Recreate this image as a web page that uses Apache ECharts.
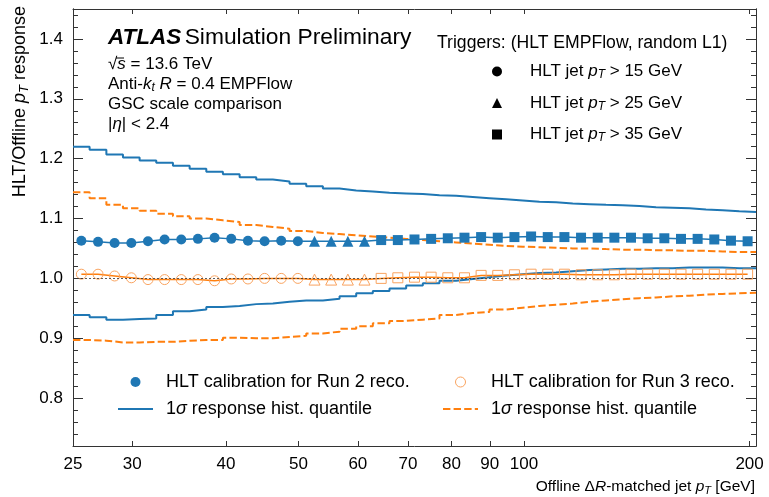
<!DOCTYPE html>
<html>
<head>
<meta charset="utf-8">
<script src="https://cdn.jsdelivr.net/npm/echarts@6/dist/echarts.min.js"></script>
<style>
  html, body { margin: 0; padding: 0; background: #fff; }
  #chart { width: 769px; height: 497px; }
</style>
</head>
<body>
<div id="chart"></div>
<script>
// bins in offline jet pT (GeV), log-spaced
const binEdges = [25, 26.31, 27.70, 29.15, 30.68, 32.29, 33.99, 35.78, 37.66, 39.63, 41.72, 43.91, 46.21, 48.64,
  51.20, 53.89, 56.72, 59.70, 62.83, 66.13, 69.61, 73.27, 77.11, 81.17, 85.43, 89.92, 94.64, 99.61, 104.84,
  110.35, 116.15, 122.25, 128.67, 135.43, 142.55, 150.03, 157.91, 166.21, 174.94, 184.13, 193.81, 204.0];
const binCenters = [25.65, 27.00, 28.41, 29.91, 31.48, 33.13, 34.87, 36.70, 38.63, 40.66, 42.80, 45.05, 47.41,
  49.90, 52.52, 55.28, 58.19, 61.24, 64.46, 67.85, 71.41, 75.16, 79.11, 83.27, 87.64, 92.24, 97.09, 102.19,
  107.56, 113.21, 119.15, 125.41, 132.00, 138.93, 146.23, 153.91, 162.00, 170.50, 179.46, 188.89, 198.81];

// mean response, HLT calibration for Run 2 / Run 3 reco
const run2Resp = [1.063, 1.061, 1.059, 1.059, 1.062, 1.065, 1.065, 1.066, 1.068, 1.066, 1.063, 1.062, 1.063, 1.062,
  1.062, 1.062, 1.062, 1.062, 1.064, 1.064, 1.065, 1.066, 1.067, 1.068, 1.069, 1.068, 1.069, 1.070, 1.069,
  1.069, 1.068, 1.068, 1.068, 1.068, 1.067, 1.067, 1.066, 1.066, 1.065, 1.063, 1.062];
const run3Resp = [1.007, 1.007, 1.004, 1.001, 0.998, 0.998, 0.998, 0.998, 0.996, 0.999, 0.999, 1.000, 1.000, 1.000,
  0.998, 0.998, 0.998, 0.998, 1.000, 1.001, 1.002, 1.002, 1.001, 1.001, 1.005, 1.005, 1.006, 1.007, 1.007,
  1.007, 1.006, 1.006, 1.006, 1.007, 1.007, 1.007, 1.007, 1.007, 1.007, 1.007, 1.007];

// 1 sigma quantiles of the response histograms
const run2Hi = [1.220, 1.215, 1.207, 1.202, 1.197, 1.193, 1.188, 1.183, 1.178, 1.174, 1.169, 1.165, 1.162, 1.158,
  1.154, 1.150, 1.147, 1.145, 1.143, 1.142, 1.141, 1.139, 1.138, 1.136, 1.134, 1.132, 1.130, 1.128, 1.127,
  1.125, 1.124, 1.123, 1.122, 1.121, 1.119, 1.118, 1.117, 1.115, 1.114, 1.112, 1.111];
const run2Lo = [0.939, 0.935, 0.931, 0.932, 0.933, 0.939, 0.945, 0.948, 0.952, 0.954, 0.957, 0.958, 0.961, 0.963,
  0.963, 0.966, 0.970, 0.975, 0.979, 0.983, 0.988, 0.992, 0.996, 0.999, 1.002, 1.005, 1.007, 1.009, 1.010,
  1.012, 1.014, 1.015, 1.016, 1.016, 1.017, 1.017, 1.018, 1.018, 1.018, 1.017, 1.017];
const run3Hi = [1.144, 1.134, 1.123, 1.117, 1.113, 1.108, 1.104, 1.100, 1.097, 1.094, 1.089, 1.086, 1.083, 1.079,
  1.076, 1.074, 1.072, 1.070, 1.068, 1.066, 1.064, 1.062, 1.060, 1.058, 1.056, 1.054, 1.053, 1.052, 1.051,
  1.050, 1.050, 1.049, 1.048, 1.048, 1.047, 1.047, 1.046, 1.046, 1.045, 1.044, 1.044];
const run3Lo = [0.897, 0.896, 0.893, 0.893, 0.894, 0.894, 0.896, 0.897, 0.897, 0.901, 0.900, 0.900, 0.902, 0.904,
  0.908, 0.911, 0.916, 0.920, 0.925, 0.929, 0.931, 0.933, 0.939, 0.942, 0.944, 0.948, 0.951, 0.954, 0.956,
  0.958, 0.961, 0.963, 0.965, 0.967, 0.968, 0.970, 0.971, 0.973, 0.974, 0.975, 0.976];

// which trigger is used from which bin on
const triggerFirstBin = [0, 14, 18];
const triggerShapes = ['circle', 'triangle', 'rect'];
const triggerSizes = [10, 11, 10];

const xTicks = [25, 30, 40, 50, 60, 70, 80, 90, 100, 200];
const yTicks = [0.8, 0.9, 1.0, 1.1, 1.2, 1.3, 1.4];
const yMinorTicks = [0.72, 0.74, 0.76, 0.78, 0.82, 0.84, 0.86, 0.88, 0.92, 0.94, 0.96, 0.98, 1.02, 1.04, 1.06, 1.08,
  1.12, 1.14, 1.16, 1.18, 1.22, 1.24, 1.26, 1.28, 1.32, 1.34, 1.36, 1.38, 1.42, 1.44];

const BLUE = '#1f77b4';
const ORANGE = '#ff7f0e';
const ORANGE_MK = '#f9a35f';
const FONT = '"Liberation Sans", Arial, Helvetica, sans-serif';

const richOf = (size) => ({
  i: { fontStyle: 'italic', fontSize: size, fontFamily: FONT },
  sub: { fontStyle: 'italic', fontSize: Math.round(size * 0.72), fontFamily: FONT, padding: [Math.round(size * 0.42), 0, 0, 0] }
});

function trigIdx(i) {
  let k = 0;
  triggerFirstBin.forEach((b, j) => { if (i >= b) k = j; });
  return k;
}

function stepData(vals) {
  return binEdges.map((e, i) => [e, vals[Math.min(i, vals.length - 1)]]);
}

function markerData(vals) {
  return vals.map((v, i) => ({
    value: [binCenters[i], v],
    symbol: triggerShapes[trigIdx(i)],
    symbolSize: triggerSizes[trigIdx(i)]
  }));
}

const legendNames = {
  trig15: 'HLT jet {i|p}{sub|T} > 15 GeV',
  trig25: 'HLT jet {i|p}{sub|T} > 25 GeV',
  trig35: 'HLT jet {i|p}{sub|T} > 35 GeV',
  run2: 'HLT calibration for Run 2 reco.',
  run3: 'HLT calibration for Run 3 reco.',
  q2: '1{i|σ} response hist. quantile',
  q3: '1{i|σ} response hist. quantile'
};

const chart = echarts.init(document.getElementById('chart'));

const xBase = {
  type: 'log', logBase: 10, min: 25, max: 204,
  splitLine: { show: false },
  axisLine: { lineStyle: { color: '#333', width: 1 } },
  axisTick: { inside: true, length: 5, customValues: xTicks.slice(1), lineStyle: { color: '#333' } }
};
const yBase = {
  type: 'value', min: 0.72, max: 1.45,
  splitLine: { show: false },
  axisLine: { show: true, lineStyle: { color: '#333', width: 1 } },
  axisLabel: { show: false }
};

const lineSeries = (name, vals, color, dashed) => ({
  name: name, type: 'line', step: 'end', data: stepData(vals), symbol: 'none',
  lineStyle: { color: color, width: 2, type: dashed ? [7.4, 3.2] : 'solid' },
  itemStyle: { color: color }, z: 2, silent: true
});

const option = {
  animation: false,
  grid: { left: 73, right: 13, top: 9, bottom: 51 },
  xAxis: [
    Object.assign({}, xBase, {
      position: 'bottom',
      axisLabel: { customValues: xTicks, fontSize: 17, color: '#000', fontFamily: FONT, margin: 10 }
    }),
    Object.assign({}, xBase, { position: 'top', axisLabel: { show: false } })
  ],
  yAxis: [
    Object.assign({}, yBase, {
      position: 'left',
      axisLabel: { show: true, customValues: yTicks, fontSize: 17, color: '#000', fontFamily: FONT, margin: 10,
        formatter: v => v.toFixed(1) },
      axisTick: { inside: true, length: 10, customValues: yTicks, lineStyle: { color: '#333' } }
    }),
    Object.assign({}, yBase, {
      position: 'left',
      axisTick: { inside: true, length: 5, customValues: yMinorTicks, lineStyle: { color: '#333' } }
    }),
    Object.assign({}, yBase, {
      position: 'right',
      axisTick: { inside: true, length: 10, customValues: yTicks, lineStyle: { color: '#333' } }
    }),
    Object.assign({}, yBase, {
      position: 'right',
      axisTick: { inside: true, length: 5, customValues: yMinorTicks, lineStyle: { color: '#333' } }
    })
  ],
  legend: [
    {
      data: [
        { name: 'trig15', icon: 'circle' },
        { name: 'trig25', icon: 'triangle' },
        { name: 'trig35', icon: 'rect' }
      ],
      orient: 'vertical', left: 492, top: 63, padding: 0, itemWidth: 10, itemHeight: 10, itemGap: 13.5,
      selectedMode: false, formatter: n => legendNames[n],
      textStyle: { fontSize: 17, color: '#000', fontFamily: FONT, padding: [0, 0, 0, 23], rich: richOf(17) }
    },
    {
      data: [
        { name: 'run2', icon: 'circle' },
        { name: 'q2', itemStyle: { opacity: 0 } }
      ],
      orient: 'vertical', left: 117, top: 373, padding: 0, itemWidth: 35, itemHeight: 10, itemGap: 9,
      selectedMode: false, formatter: n => legendNames[n],
      textStyle: { fontSize: 18, color: '#000', fontFamily: FONT, padding: [0, 0, 0, 8], rich: richOf(18) }
    },
    {
      data: [
        { name: 'run3', icon: 'circle', itemStyle: { color: 'rgba(0,0,0,0)', borderColor: ORANGE_MK, borderWidth: 1 } },
        { name: 'q3', itemStyle: { opacity: 0 } }
      ],
      orient: 'vertical', left: 442, top: 373, padding: 0, itemWidth: 35, itemHeight: 10, itemGap: 9,
      selectedMode: false, formatter: n => legendNames[n],
      textStyle: { fontSize: 18, color: '#000', fontFamily: FONT, padding: [0, 0, 0, 8], rich: richOf(18) }
    }
  ],
  graphic: [
    { type: 'text', left: 108, top: 26, style: {
      text: '{b|ATLAS} {r|Simulation Preliminary}', fill: '#000',
      rich: {
        b: { fontSize: 22.5, fontWeight: 'bold', fontStyle: 'italic', fontFamily: FONT },
        r: { fontSize: 22.8, fontFamily: FONT }
      } } },
    { type: 'text', left: 108, top: 56, style: {
      text: '√{i|s} = 13.6 TeV', fill: '#000', font: '17px ' + FONT, rich: richOf(17) } },
    { type: 'line', shape: { x1: 116, y1: 58, x2: 124, y2: 58 }, style: { stroke: '#000', lineWidth: 1 } },
    { type: 'text', left: 108, top: 76, style: {
      text: 'Anti-{i|k}{sub|t} {i|R} = 0.4 EMPFlow', fill: '#000', font: '17px ' + FONT, rich: richOf(17) } },
    { type: 'text', left: 108, top: 96, style: {
      text: 'GSC scale comparison', fill: '#000', font: '17px ' + FONT } },
    { type: 'text', left: 108, top: 116, style: {
      text: '|{i|η}| < 2.4', fill: '#000', font: '17px ' + FONT, rich: richOf(17) } },
    { type: 'text', left: 437, top: 34, style: {
      text: 'Triggers: (HLT EMPFlow, random L1)', fill: '#000', font: '17.6px ' + FONT } },
    { type: 'text', x: 20, y: 6, rotation: Math.PI / 2, style: {
      text: 'HLT/Offline {i|p}{sub|T} response', fill: '#000', font: '18px ' + FONT,
      align: 'right', verticalAlign: 'middle', rich: richOf(18) } },
    { type: 'text', x: 755, y: 487, style: {
      text: 'Offline Δ{i|R}-matched jet {i|p}{sub|T} [GeV]', fill: '#000', font: '15.5px ' + FONT,
      align: 'right', verticalAlign: 'middle', rich: richOf(15.5) } }
  ],
  series: [
    lineSeries('q2', run2Hi, BLUE, false),
    lineSeries('q2', run2Lo, BLUE, false),
    lineSeries('q3', run3Hi, ORANGE, true),
    lineSeries('q3', run3Lo, ORANGE, true),
    {
      name: 'run3', type: 'line', data: markerData(run3Resp), z: 4,
      lineStyle: { color: ORANGE, width: 1.5 },
      itemStyle: { color: 'rgba(0,0,0,0)', borderColor: ORANGE_MK, borderWidth: 1 },
      markLine: {
        silent: true, symbol: 'none', label: { show: false },
        lineStyle: { color: '#333', width: 0.8, type: [2, 2] },
        data: [{ yAxis: 1.0 }]
      }
    },
    {
      name: 'run2', type: 'line', data: markerData(run2Resp), z: 5,
      lineStyle: { color: BLUE, width: 1.5 },
      itemStyle: { color: BLUE }
    },
    { name: 'trig15', type: 'line', data: [], symbol: 'circle', itemStyle: { color: '#000' } },
    { name: 'trig25', type: 'line', data: [], symbol: 'triangle', itemStyle: { color: '#000' } },
    { name: 'trig35', type: 'line', data: [], symbol: 'rect', itemStyle: { color: '#000' } }
  ]
};

chart.setOption(option);
</script>
</body>
</html>
